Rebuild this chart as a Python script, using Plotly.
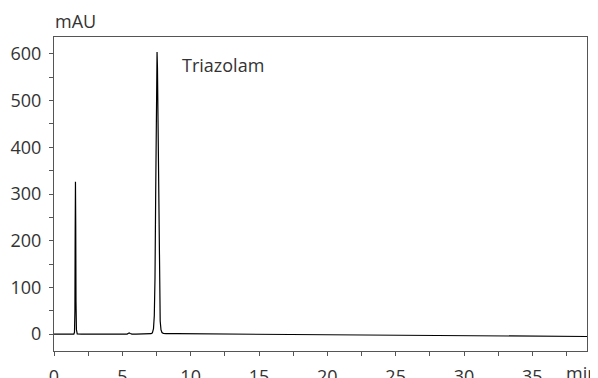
import plotly.graph_objects as go

# Retention time (min) and absorbance (mAU)
time_min = [0.0, 1.0, 1.45, 1.50, 1.53, 1.55, 1.57, 1.59, 1.61, 1.64, 1.70, 2.0,
            3.0, 4.0, 5.0, 5.35, 5.45, 5.50, 5.58, 5.70, 6.0, 6.8, 7.10, 7.20,
            7.28, 7.34, 7.39, 7.44, 7.48, 7.51, 7.54, 7.57, 7.60, 7.64, 7.68,
            7.72, 7.77, 7.83, 7.90, 8.0, 8.2, 9.0, 10.0, 12.0, 15.0, 18.0,
            20.0, 22.0, 25.0, 28.0, 30.0, 33.0, 35.0, 37.0, 39.0]
absorb_mau = [0.0, 0.0, 0.0, 4.0, 50.0, 220.0, 326.0, 235.0, 70.0, 10.0, 0.5, 0.0,
              0.0, 0.0, 0.0, 0.2, 2.0, 2.5, 1.5, 0.3, 0.2, 0.4, 1.0, 3.0,
              12.0, 40.0, 120.0, 300.0, 480.0, 580.0, 604.0, 570.0, 470.0, 300.0, 160.0,
              75.0, 28.0, 9.0, 3.5, 1.8, 1.2, 1.0, 0.8, 0.5, 0.2, 0.0,
              -0.5, -1.0, -1.8, -2.6, -3.2, -4.0, -4.5, -4.8, -5.0]

peak_label = "Triazolam"
peak_label_time = 9.2
peak_label_mau = 576

x_ticks = [0, 5, 10, 15, 20, 25, 30, 35]
y_ticks = [0, 100, 200, 300, 400, 500, 600]

FONT = "Open Sans"
FS = 18
AX = "#555555"
TXT = "#333333"

fig = go.Figure()
fig.add_trace(go.Scatter(x=time_min, y=absorb_mau, mode="lines",
                         line=dict(color="black", width=1.2), hoverinfo="skip",
                         showlegend=False))

# page body has an 8px margin, so the figure is sized 8px smaller and shifted
fig.update_layout(
    width=590, height=370,
    margin=dict(l=46, r=11, t=29, b=27),
    paper_bgcolor="white", plot_bgcolor="white",
    font=dict(family=FONT, size=FS, color=TXT),
    showlegend=False,
)
fig.update_xaxes(
    range=[0, 39], tickvals=x_ticks, ticktext=[str(v) for v in x_ticks],
    ticks="outside", ticklen=4, tickcolor=AX, showgrid=False, zeroline=False,
    showline=True, linecolor=AX, linewidth=1, mirror=True, automargin=False,
    minor=dict(dtick=2.5, tick0=0, ticks="outside", ticklen=4, tickcolor=AX, showgrid=False),
    ticklabelstandoff=5,
)
fig.update_yaxes(
    range=[-36, 636], tickvals=y_ticks, ticktext=[str(v) for v in y_ticks],
    ticks="outside", ticklen=4, tickcolor=AX, showgrid=False, zeroline=False,
    showline=True, linecolor=AX, linewidth=1, mirror=True, automargin=False,
    minor=dict(dtick=50, tick0=0, ticks="outside", ticklen=4, tickcolor=AX, showgrid=False),
    ticklabelstandoff=4,
)

fig.add_annotation(x=peak_label_time, y=peak_label_mau, text=peak_label, showarrow=False,
                   xanchor="left", yanchor="middle", font=dict(family=FONT, size=FS, color=TXT))
fig.add_annotation(xref="paper", yref="paper", x=0, y=1, yshift=2, xshift=-1, text="mAU",
                   showarrow=False, xanchor="left", yanchor="bottom",
                   font=dict(family=FONT, size=FS, color=TXT))
fig.add_annotation(xref="paper", yref="paper", x=1, y=0, xshift=-23, yshift=-8, text="min",
                   showarrow=False, xanchor="left", yanchor="top",
                   font=dict(family=FONT, size=FS, color=TXT))

fig.write_html("out.html")
